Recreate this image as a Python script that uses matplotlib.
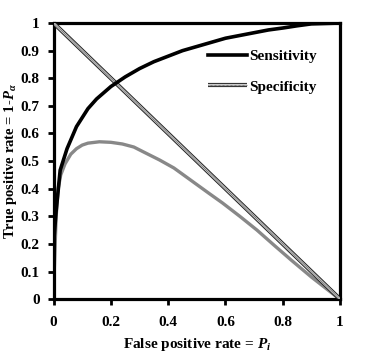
import numpy as np
import matplotlib
matplotlib.use("Agg")
import matplotlib.pyplot as plt
from matplotlib.legend_handler import HandlerTuple
from matplotlib.ticker import FuncFormatter

# values
sens_x = [0, 0.009, 0.023, 0.047, 0.08, 0.12, 0.15, 0.2, 0.25, 0.3, 0.35, 0.4, 0.45, 0.5,
          0.55, 0.6, 0.65, 0.7, 0.75, 0.8, 0.85, 0.9, 1.0]
sens_y = [0.2, 0.32, 0.467, 0.545, 0.625, 0.69, 0.725, 0.77, 0.805, 0.835, 0.86, 0.88, 0.90,
          0.915, 0.93, 0.945, 0.955, 0.965, 0.975, 0.982, 0.99, 0.997, 1.0]

curve_x = [0, 0.002, 0.009, 0.016, 0.025, 0.04, 0.06, 0.08, 0.1, 0.12, 0.16, 0.2, 0.24, 0.28,
           0.32, 0.37, 0.42, 0.48, 0.54, 0.59, 0.65, 0.71, 0.77, 0.83, 0.9, 0.99, 1.0]
curve_y = [0.0, 0.094, 0.30, 0.40, 0.45, 0.49, 0.525, 0.545, 0.558, 0.565, 0.57, 0.568, 0.562,
           0.551, 0.53, 0.504, 0.475, 0.43, 0.385, 0.348, 0.30, 0.25, 0.195, 0.141, 0.08, 0.007, 0.0]

spec_x = [0, 1]
spec_y = [1, 0]

x_ticks = [0, 0.2, 0.4, 0.6, 0.8, 1]
y_ticks = [0, 0.1, 0.2, 0.3, 0.4, 0.5, 0.6, 0.7, 0.8, 0.9, 1]

plt.rcParams["font.family"] = "Liberation Serif"
plt.rcParams["font.weight"] = "bold"
plt.rcParams["mathtext.fontset"] = "custom"
plt.rcParams["mathtext.rm"] = "Liberation Serif:bold"
plt.rcParams["mathtext.it"] = "Liberation Serif:italic:bold"

fig = plt.figure(figsize=(3.8, 3.6), dpi=100)
ax = fig.add_axes([0.141, 0.169, 0.754, 0.767])

# diagonal drawn as a patterned (hatched look) line
d1, = ax.plot(spec_x, spec_y, color="#222222", lw=3.0, solid_capstyle="butt", zorder=3)
d2, = ax.plot(spec_x, spec_y, color="#d0d0d0", lw=1.6, solid_capstyle="butt", zorder=3)
d3, = ax.plot(spec_x, spec_y, color="#555555", lw=0.8, dashes=(0.6, 0.6), zorder=3)

ax.plot(curve_x, curve_y, color="#888888", lw=2.4, zorder=2)
s, = ax.plot(sens_x, sens_y, color="black", lw=2.6, zorder=4)

ax.set_xlim(0, 1)
ax.set_ylim(0, 1)
ax.set_xticks(x_ticks)
ax.set_yticks(y_ticks)
fmt = FuncFormatter(lambda v, p: f"{v:g}")
ax.xaxis.set_major_formatter(fmt)
ax.yaxis.set_major_formatter(fmt)
ax.tick_params(direction="out", length=4, width=2, labelsize=11, pad=8)
ax.tick_params(axis="y", pad=6)
for sp in ax.spines.values():
    sp.set_linewidth(2.3)

ax.set_xlabel("False positive rate = $\\mathit{P}_{\\mathit{i}}$", fontsize=11,
              fontweight="bold", labelpad=5)
ax.set_ylabel("True positive rate = 1-$\\mathit{P}_{\\mathit{\\alpha}}$", fontsize=10.5,
              fontweight="bold", labelpad=1)

ax.legend([s, (d1, d2, d3)], ["Sensitivity", "Specificity"],
          handler_map={tuple: HandlerTuple(ndivide=1, pad=0)},
          loc="upper left", bbox_to_anchor=(0.54, 0.904), frameon=False,
          borderpad=0, borderaxespad=0,
          handlelength=2.55, handletextpad=0.15, labelspacing=1.1,
          prop={"size": 11, "weight": "bold"})

fig.savefig("out.png", dpi=100)
